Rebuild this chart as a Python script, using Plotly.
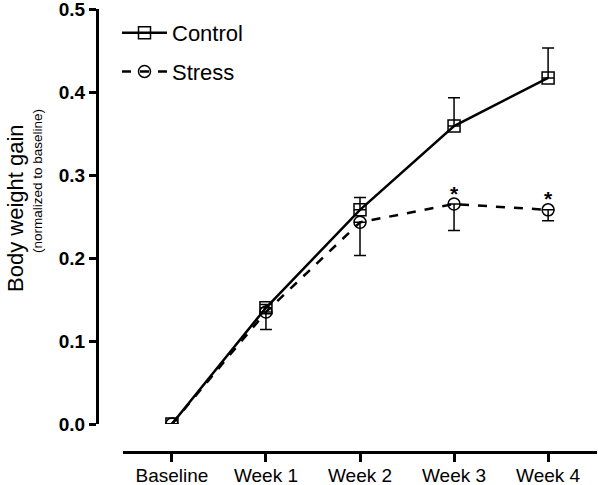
import plotly.graph_objects as go

categories = ["Baseline", "Week 1", "Week 2", "Week 3", "Week 4"]
control_mean = [0.0, 0.140, 0.258, 0.359, 0.417]
control_err_up = [0.0, 0.004, 0.015, 0.034, 0.036]
stress_mean = [0.0, 0.135, 0.243, 0.265, 0.258]
stress_err_down = [0.0, 0.021, 0.040, 0.032, 0.013]
sig_points = ["Week 3", "Week 4"]
y_ticks = [0.0, 0.1, 0.2, 0.3, 0.4, 0.5]

W, H = 598, 485
L, R, T, B = 97, 1, 9, 33
plot_h = H - T - B
plot_w = W - L - R
y_dom0 = (452 - 424) / plot_h
x_dom0 = (123 - 97) / plot_w


def px(sx):
    return (sx - L) / plot_w


def py(sy):
    return (H - B - sy) / plot_h


FONT = "Liberation Sans, Arial, sans-serif"

fig = go.Figure()
fig.add_trace(go.Scatter(
    x=categories, y=control_mean, name="Control", mode="lines+markers",
    legendgroup="c",
    line=dict(color="black", width=2.5),
    marker=dict(symbol="square-open", size=12, color="black", line=dict(width=1.5)),
    error_y=dict(type="data", symmetric=False, array=control_err_up,
                 arrayminus=[0] * len(control_err_up), color="black",
                 thickness=1.5, width=6),
))
fig.add_trace(go.Scatter(
    x=categories, y=stress_mean, name="Stress", mode="lines+markers",
    legendgroup="s",
    line=dict(color="black", width=2.5, dash="dash"),
    marker=dict(symbol="circle-open", size=12, color="black", line=dict(width=1.5)),
    error_y=dict(type="data", symmetric=False, array=[0] * len(stress_err_down),
                 arrayminus=stress_err_down, color="black",
                 thickness=1.5, width=6),
))

for c in sig_points:
    i = categories.index(c)
    fig.add_annotation(x=c, y=stress_mean[i], text="<b>*</b>", showarrow=False,
                       yshift=11, font=dict(size=21, color="black", family=FONT))

fig.add_annotation(
    xref="paper", yref="paper", x=px(15), y=py(208),
    text="Body weight gain", textangle=-90, showarrow=False,
    xanchor="center", yanchor="middle",
    font=dict(size=22, color="black", family=FONT),
)
fig.add_annotation(
    xref="paper", yref="paper", x=px(37), y=py(181),
    text="(normalized to baseline)", textangle=-90, showarrow=False,
    xanchor="center", yanchor="middle",
    font=dict(size=13.5, color="black", family=FONT),
)

fig.update_layout(
    width=W, height=H,
    margin=dict(l=L, r=R, t=T, b=B, autoexpand=False),
    paper_bgcolor="white", plot_bgcolor="white",
    font=dict(family=FONT, color="black"),
    showlegend=True,
    legend=dict(x=px(117), y=py(12), xanchor="left", yanchor="top",
                font=dict(size=22, family=FONT), bgcolor="rgba(0,0,0,0)",
                itemwidth=45, tracegroupgap=7),
    xaxis=dict(
        domain=[x_dom0, 1], anchor="free", position=0,
        range=[-0.52, 4.52], showgrid=False, zeroline=False,
        showline=True, linecolor="black", linewidth=3,
        ticks="outside", ticklen=8, tickwidth=3, tickcolor="black",
        tickfont=dict(size=19, family=FONT), type="category",
        ticklabelstandoff=-3, ticklabeloverflow="allow",
    ),
    yaxis=dict(
        domain=[y_dom0, 1], anchor="free", position=0,
        range=[0, 0.5], tickvals=y_ticks,
        ticktext=[f"<b>{v:.1f}</b>" for v in y_ticks],
        showgrid=False, zeroline=False,
        showline=True, linecolor="black", linewidth=3,
        ticks="outside", ticklen=7, tickwidth=3, tickcolor="black",
        tickfont=dict(size=19, family=FONT), ticklabeloverflow="allow",
    ),
)

fig.write_html("out.html", post_script="document.body.style.margin='0';",
               config={"displayModeBar": False})
